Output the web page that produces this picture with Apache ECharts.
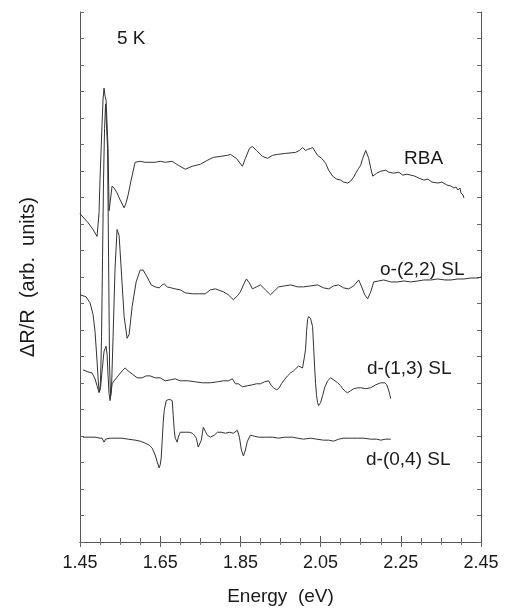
<!DOCTYPE html>
<html>
<head>
<meta charset="utf-8">
<script src="https://cdn.jsdelivr.net/npm/echarts@6/dist/echarts.min.js"></script>
<style>html,body{margin:0;padding:0;background:#fff}#c{width:510px;height:611px}</style>
</head>
<body>
<div id="c"></div>
<script>
// Energy (eV) and ΔR/R (arb. units)
const rbaE = [1.450,1.470,1.4825,1.4925,1.4975,1.500,1.505,1.5075,1.510,1.5125,1.515,1.5175,1.520,1.5225,1.525,1.530,1.535,1.5425,1.550,1.560,1.565,1.570,1.5775,1.5875,1.600,1.6125,1.625,1.6375,1.650,1.6625,1.680,1.695,1.7125,1.730,1.750,1.7675,1.7825,1.800,1.8175,1.825,1.840,1.855,1.8625,1.8725,1.880,1.890,1.905,1.9175,1.930,1.9425,1.9625,1.9875,1.9975,2.005,2.0125,2.0175,2.025,2.030,2.0425,2.0525,2.0625,2.070,2.080,2.090,2.100,2.1075,2.1175,2.125,2.1325,2.1375,2.145,2.150,2.155,2.1625,2.170,2.175,2.180,2.190,2.200,2.2125,2.220,2.2325,2.245,2.255,2.265,2.275,2.285,2.295,2.3075,2.3175,2.3275,2.3425,2.3525,2.365,2.375,2.3825,2.3875,2.3925,2.3975,2.400,2.405,2.4075];
const rbaV = [332,323,316,309,333,368,423,448,459,451,447,445,398,335,343,360,358,353,346,338,343,351,366,384,385,384,384,384,385,384,385,381,377,380,382,386,389,390,391,392,388,380,388,398,400,396,390,388,391,392,393,394,396,399,396,397,398,399,391,388,383,376,370,367,366,364,363,365,369,373,378,381,388,396,388,378,370,373,375,376,374,373,374,371,372,371,370,368,366,367,364,363,364,361,360,358,359,356,358,353,351,348];

const o22E = [1.450,1.465,1.475,1.4825,1.4875,1.4925,1.49625,1.49875,1.50125,1.50375,1.50625,1.50875,1.51125,1.51375,1.51625,1.51875,1.52125,1.52375,1.52625,1.52875,1.5325,1.5375,1.5425,1.545,1.5475,1.5525,1.560,1.5675,1.5725,1.580,1.590,1.600,1.6075,1.6175,1.6275,1.6375,1.6475,1.655,1.660,1.6675,1.6775,1.6875,1.700,1.7125,1.730,1.745,1.7625,1.775,1.7875,1.8075,1.820,1.8325,1.8425,1.850,1.8575,1.865,1.8725,1.880,1.890,1.900,1.9125,1.925,1.935,1.945,1.960,1.975,1.9925,2.0075,2.025,2.0425,2.0575,2.070,2.0825,2.095,2.1075,2.120,2.1325,2.145,2.1525,2.160,2.1675,2.175,2.1825,2.195,2.2075,2.225,2.2425,2.2575,2.275,2.2925,2.3075,2.325,2.3425,2.360,2.375,2.3925,2.4075,2.425,2.4425,2.450];
const o22V = [250,248,242,230,213,183,158,152,163,208,288,368,418,443,445,398,288,178,148,158,208,278,316,318,310,278,228,206,210,238,263,275,275,268,260,258,257,260,261,258,257,256,255,252,251,251,251,255,256,253,250,245,249,253,260,266,262,256,258,260,255,250,254,258,259,260,258,258,259,260,257,256,259,260,257,256,259,265,258,250,246,253,263,264,265,263,263,264,263,264,265,265,266,265,265,266,266,267,267,268];

const d13E = [1.4575,1.470,1.480,1.4875,1.4925,1.4975,1.50125,1.505,1.510,1.515,1.5175,1.520,1.5225,1.525,1.5275,1.530,1.535,1.545,1.555,1.5625,1.570,1.580,1.5925,1.605,1.615,1.625,1.6375,1.650,1.6625,1.675,1.6875,1.700,1.720,1.7375,1.755,1.775,1.7925,1.8075,1.820,1.830,1.8375,1.845,1.855,1.8675,1.880,1.890,1.900,1.910,1.920,1.9275,1.9325,1.940,1.945,1.9525,1.9575,1.9675,1.975,1.9825,1.9875,1.995,2.000,2.005,2.010,2.0125,2.015,2.0175,2.020,2.0225,2.025,2.030,2.0325,2.035,2.0375,2.040,2.0425,2.045,2.050,2.055,2.060,2.0675,2.075,2.0825,2.0925,2.100,2.105,2.1125,2.1175,2.125,2.1325,2.1425,2.150,2.1625,2.175,2.1875,2.200,2.210,2.215,2.220,2.2225,2.225];
const d13V = [174,172,171,165,158,151,156,173,193,198,190,168,150,143,150,160,163,168,173,176,173,170,166,166,168,168,166,166,163,164,165,163,163,162,161,161,162,163,163,165,160,160,157,158,159,160,160,162,163,158,156,154,155,160,163,168,171,173,175,178,177,176,188,195,213,225,228,228,226,218,198,178,160,148,141,138,141,148,156,163,166,164,161,158,155,152,151,153,155,156,156,155,156,159,161,161,159,153,149,145];

const d04E = [1.4575,1.475,1.4875,1.500,1.505,1.510,1.51375,1.5175,1.525,1.540,1.555,1.570,1.5875,1.600,1.6125,1.6225,1.630,1.6375,1.6425,1.6475,1.650,1.6525,1.655,1.6575,1.660,1.665,1.670,1.675,1.680,1.6825,1.685,1.6875,1.6925,1.695,1.700,1.7125,1.7225,1.730,1.735,1.740,1.745,1.7475,1.7525,1.7575,1.7625,1.7675,1.775,1.785,1.7925,1.8025,1.8125,1.8225,1.8325,1.8425,1.8475,1.8525,1.8575,1.8625,1.8675,1.875,1.885,1.895,1.9125,1.930,1.945,1.960,1.980,1.9925,2.0075,2.025,2.040,2.0575,2.070,2.0825,2.095,2.1075,2.125,2.1425,2.1575,2.175,2.190,2.200,2.2125,2.225];
const d04V = [106,106,106,105,105,101,104,106,105,105,105,104,103,102,100,98,95,88,81,75,78,85,103,121,133,143,144,144,143,128,113,105,101,106,111,111,111,110,108,105,96,98,103,116,112,108,106,108,111,111,110,111,110,113,106,93,87,93,102,108,107,106,106,106,105,106,106,105,104,105,104,103,103,102,104,105,105,105,105,104,104,103,104,104];

const xTicks = [1.45,1.65,1.85,2.05,2.25,2.45];
const curveLabels = ['RBA','o-(2,2) SL','d-(1,3) SL','d-(0,4) SL'];

const zip = (a,b) => a.map((x,i)=>[x,b[i]]);
const FONT = '"Liberation Sans", Arial, sans-serif';
const ink = '#1a1a1a';
const axisLine = {show:true, lineStyle:{color:'#555', width:1}};

const chart = echarts.init(document.getElementById('c'));
const mkLine = (name, E, V) => ({
  name, type:'line', data: zip(E,V), showSymbol:false, symbol:'none',
  lineStyle:{color:'#333', width:1}, animation:false, xAxisIndex:0, yAxisIndex:0
});

chart.setOption({
  animation:false,
  backgroundColor:'#fff',
  grid:{left:80, right:29, top:12, bottom:63},
  xAxis:[
    {type:'value', min:1.45, max:2.45, interval:0.2, position:'bottom',
     axisLine, axisTick:{inside:true, length:6, lineStyle:{color:'#555'}},
     minorTick:{show:true, splitNumber:4, length:4, lineStyle:{color:'#666'}},
     splitLine:{show:false},
     axisLabel:{fontFamily:FONT, fontSize:18, color:ink, margin:12,
       formatter:v=>{const t=xTicks.find(t=>Math.abs(t-v)<1e-6);return t!==undefined?t.toFixed(2):'';}},
     name:'Energy  (eV)', nameLocation:'middle', nameGap:45,
     nameTextStyle:{fontFamily:FONT, fontSize:19, color:ink}},
    {type:'value', min:1.45, max:2.45, interval:0.2, position:'top',
     axisLine, axisTick:{inside:true, length:5, lineStyle:{color:'#666'}},
     minorTick:{show:true, splitNumber:4, length:3, lineStyle:{color:'#777'}},
     splitLine:{show:false}, axisLabel:{show:false}}
  ],
  yAxis:[
    {type:'value', min:0, max:536, interval:26.8, position:'left',
     axisLine, axisTick:{inside:true, length:4, lineStyle:{color:'#666'}},
     splitLine:{show:false}, axisLabel:{show:false},
     name:'ΔR/R  (arb.  units)', nameLocation:'middle', nameGap:42, nameRotate:90,
     nameTextStyle:{fontFamily:FONT, fontSize:20, color:ink}},
    {type:'value', min:0, max:536, interval:26.8, position:'right',
     axisLine, axisTick:{inside:true, length:4, lineStyle:{color:'#666'}},
     splitLine:{show:false}, axisLabel:{show:false}}
  ],
  series:[
    mkLine(curveLabels[0], rbaE, rbaV),
    mkLine(curveLabels[1], o22E, o22V),
    mkLine(curveLabels[2], d13E, d13V),
    mkLine(curveLabels[3], d04E, d04V)
  ],
  graphic:[
    {type:'text', left:117, top:29, style:{text:'5 K', font:'19px '+FONT, fill:ink}},
    {type:'text', left:404, top:149, style:{text:curveLabels[0], font:'19px '+FONT, fill:ink}},
    {type:'text', left:380, top:260, style:{text:curveLabels[1], font:'19px '+FONT, fill:ink}},
    {type:'text', left:367, top:359, style:{text:curveLabels[2], font:'19px '+FONT, fill:ink}},
    {type:'text', left:366, top:450, style:{text:curveLabels[3], font:'19px '+FONT, fill:ink}}
  ]
});
</script>
</body>
</html>
